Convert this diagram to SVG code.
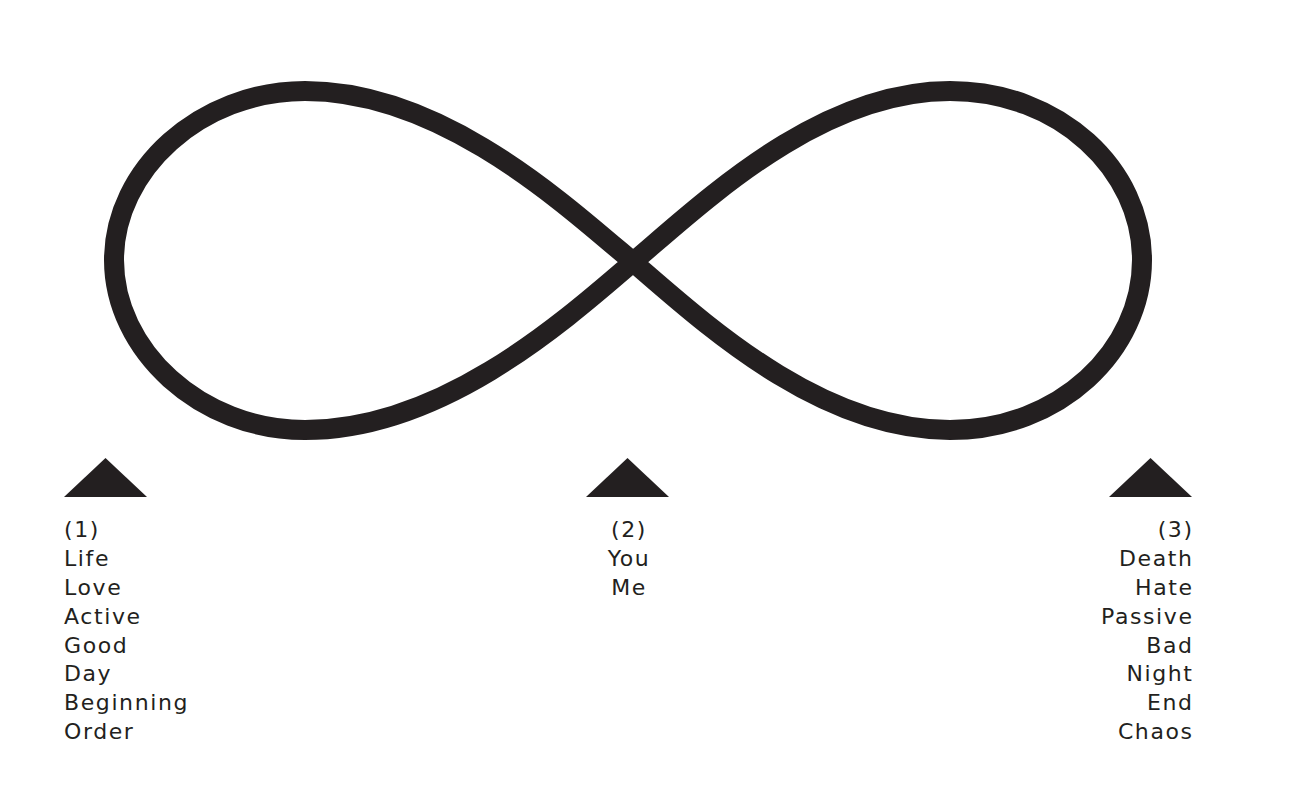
<svg xmlns="http://www.w3.org/2000/svg" width="1290" height="789" viewBox="0 0 1290 789">
<style>
.inf{fill:none;stroke:#231f20;stroke-width:20;stroke-linejoin:round}
.tri{fill:#231f20}
.t{font-family:"DejaVu Sans","Liberation Sans",sans-serif;font-size:22px;letter-spacing:1.6px;fill:#231f20}
</style>
<rect width="1290" height="789" fill="#fff"/>
<g id="infinity">
<path class="inf" d="M633,262 C706,200 820,91 950,91 C1060,91 1142,170 1142,260 C1142,350 1060,430 950,430 C820,430 706,325 633,262 C560,200 440,91 305,91 C200,91 114,170 114,260 C114,350 200,430 305,430 C440,430 560,325 633,262 Z"/>
</g>
<g id="node1">
<polygon class="tri" points="64,497 147,497 105.5,458"/>
<text class="t" x="64" y="537">(1)</text>
<text class="t" x="64" y="566">Life</text>
<text class="t" x="64" y="595">Love</text>
<text class="t" x="64" y="624">Active</text>
<text class="t" x="64" y="653">Good</text>
<text class="t" x="64" y="681">Day</text>
<text class="t" x="64" y="710">Beginning</text>
<text class="t" x="64" y="739">Order</text>
</g>
<g id="node2">
<polygon class="tri" points="586,497 669,497 627.5,458"/>
<g text-anchor="middle">
<text class="t" x="629" y="537">(2)</text>
<text class="t" x="629" y="566">You</text>
<text class="t" x="629" y="595">Me</text>
</g>
</g>
<g id="node3">
<polygon class="tri" points="1109,497 1192,497 1150.5,458"/>
<g text-anchor="end">
<text class="t" x="1193.6" y="537">(3)</text>
<text class="t" x="1193.6" y="566">Death</text>
<text class="t" x="1193.6" y="595">Hate</text>
<text class="t" x="1193.6" y="624">Passive</text>
<text class="t" x="1193.6" y="653">Bad</text>
<text class="t" x="1193.6" y="681">Night</text>
<text class="t" x="1193.6" y="710">End</text>
<text class="t" x="1193.6" y="739">Chaos</text>
</g>
</g>
<g id="connectors"></g>
</svg>
